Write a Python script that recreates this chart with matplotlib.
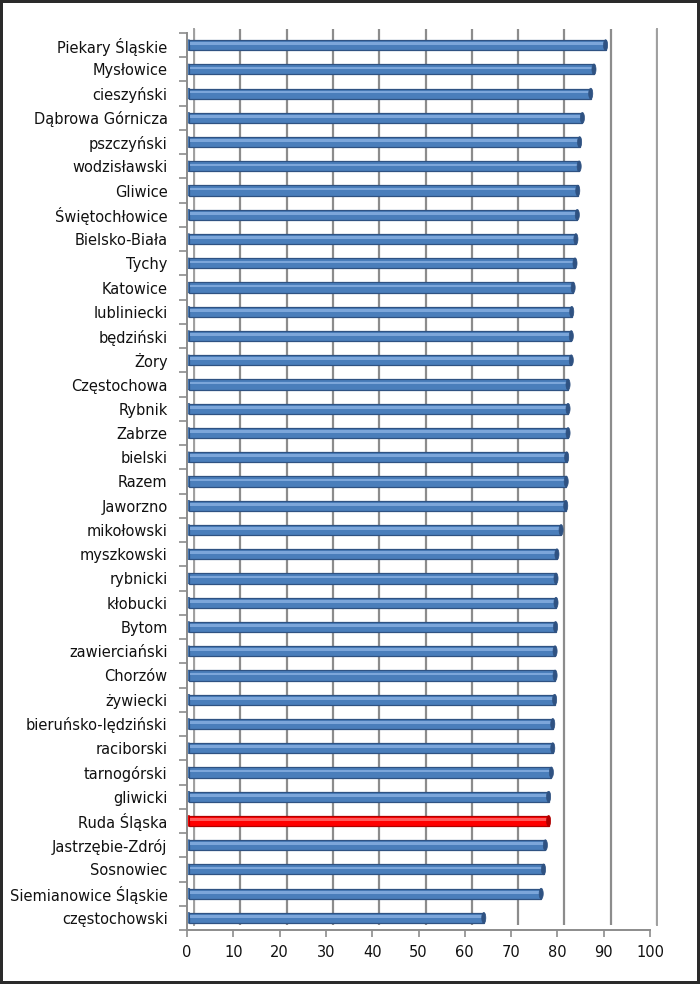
import matplotlib.pyplot as plt
import numpy as np
from matplotlib.path import Path

CATEGORIES = [
    "Piekary Śląskie", "Mysłowice", "cieszyński", "Dąbrowa Górnicza", "pszczyński",
    "wodzisławski", "Gliwice", "Świętochłowice", "Bielsko-Biała", "Tychy",
    "Katowice", "lubliniecki", "będziński", "Żory", "Częstochowa",
    "Rybnik", "Zabrze", "bielski", "Razem", "Jaworzno",
    "mikołowski", "myszkowski", "rybnicki", "kłobucki", "Bytom",
    "zawierciański", "Chorzów", "żywiecki", "bieruńsko-lędziński", "raciborski",
    "tarnogórski", "gliwicki", "Ruda Śląska", "Jastrzębie-Zdrój", "Sosnowiec",
    "Siemianowice Śląskie", "częstochowski",
]
VALUES = [
    90.4, 87.9, 87.2, 85.4, 84.8,
    84.7, 84.4, 84.3, 84.0, 83.8,
    83.4, 83.1, 83.0, 83.0, 82.3,
    82.3, 82.3, 82.0, 81.9, 81.8,
    80.8, 79.9, 79.7, 79.7, 79.6,
    79.5, 79.5, 79.4, 79.0, 79.0,
    78.7, 78.1, 78.1, 77.4, 77.0,
    76.5, 64.1,
]
HIGHLIGHT = "Ruda Śląska"
X_TICKS = [0, 10, 20, 30, 40, 50, 60, 70, 80, 90, 100]

W, H = 700, 984
BLUE = "#4A7EBB"
BLUE_EDGE = "#2F5282"
BLUE_LIGHT = "#86AEE0"
RED = "#FF0000"
RED_EDGE = "#B00000"
RED_LIGHT = "#FF6A6A"
GRID = "#8C8C8C"

plt.rcParams["font.family"] = ["DejaVu Sans"]

fig = plt.figure(figsize=(W / 100, H / 100), dpi=100)
fig.patch.set_facecolor("white")
fig.patch.set_edgecolor("#2a2a2a")
fig.patch.set_linewidth(4)

n = len(CATEGORIES)
y = np.arange(n)


def px_rect(left, top, right, bottom):
    return [left / W, 1 - bottom / H, (right - left) / W, (bottom - top) / H]


# back wall (shifted for the 3D look) with gridlines
ax_back = fig.add_axes(px_rect(194, 29, 657, 925))
ax_back.set_xlim(0, 100)
ax_back.set_ylim(n - 0.5, -0.5)
ax_back.set_xticks(X_TICKS)
ax_back.tick_params(left=False, bottom=False, labelleft=False, labelbottom=False)
ax_back.grid(axis="x", color=GRID, linewidth=1.6)
for side in ["top", "bottom"]:
    ax_back.spines[side].set_visible(False)
for side in ["left", "right"]:
    ax_back.spines[side].set_color("#A0A0A0")
    ax_back.spines[side].set_linewidth(1.4)
ax_back.set_zorder(0)

# front axes with bars
ax = fig.add_axes(px_rect(187, 33, 650, 930))
ax.set_facecolor("none")
ax.set_zorder(1)
ax.set_xlim(0, 100)
ax.set_ylim(n - 0.5, -0.5)

is_hl = [c == HIGHLIGHT for c in CATEGORIES]
colors = [RED if h else BLUE for h in is_hl]
edges = [RED_EDGE if h else BLUE_EDGE for h in is_hl]
lights = [RED_LIGHT if h else BLUE_LIGHT for h in is_hl]

x0 = 0.4
vals = np.array(VALUES)
ax.barh(y, vals - x0, left=x0, height=0.42, color=colors, edgecolor=edges, linewidth=0.9, zorder=3)
ax.barh(y - 0.06, vals - x0 - 0.5, left=x0 + 0.3, height=0.11, color=lights, linewidth=0, alpha=0.85, zorder=4)

# rounded cylinder caps at the bar ends
t = np.linspace(0, 2 * np.pi, 40)
ellipse = Path(np.column_stack([0.38 * np.cos(t), np.sin(t)]), closed=True)
ax.scatter(vals, y, marker=ellipse, s=60, c=edges, edgecolors=edges, linewidths=0.5, zorder=5)
ax.scatter(np.full(n, x0), y, marker=ellipse, s=60, c=colors, edgecolors=edges, linewidths=0.5, zorder=2)

ax.set_yticks(y)
ax.set_yticklabels(CATEGORIES, fontsize=10.5, color="#111111")
ax.set_yticks(np.arange(-0.5, n, 1.0), minor=True)
ax.tick_params(axis="y", which="major", length=0, pad=14)
ax.tick_params(axis="y", which="minor", length=6, color=GRID, width=1.2)

ax.set_xticks(X_TICKS)
ax.set_xticklabels([str(t) for t in X_TICKS], fontsize=10.5, color="#111111")
ax.tick_params(axis="x", length=5, color=GRID, width=1.2, pad=6)

for side in ["top", "right"]:
    ax.spines[side].set_visible(False)
for side in ["left", "bottom"]:
    ax.spines[side].set_color(GRID)
    ax.spines[side].set_linewidth(1.4)

fig.savefig("out.png", dpi=100, facecolor=fig.get_facecolor(), edgecolor=fig.get_edgecolor())
